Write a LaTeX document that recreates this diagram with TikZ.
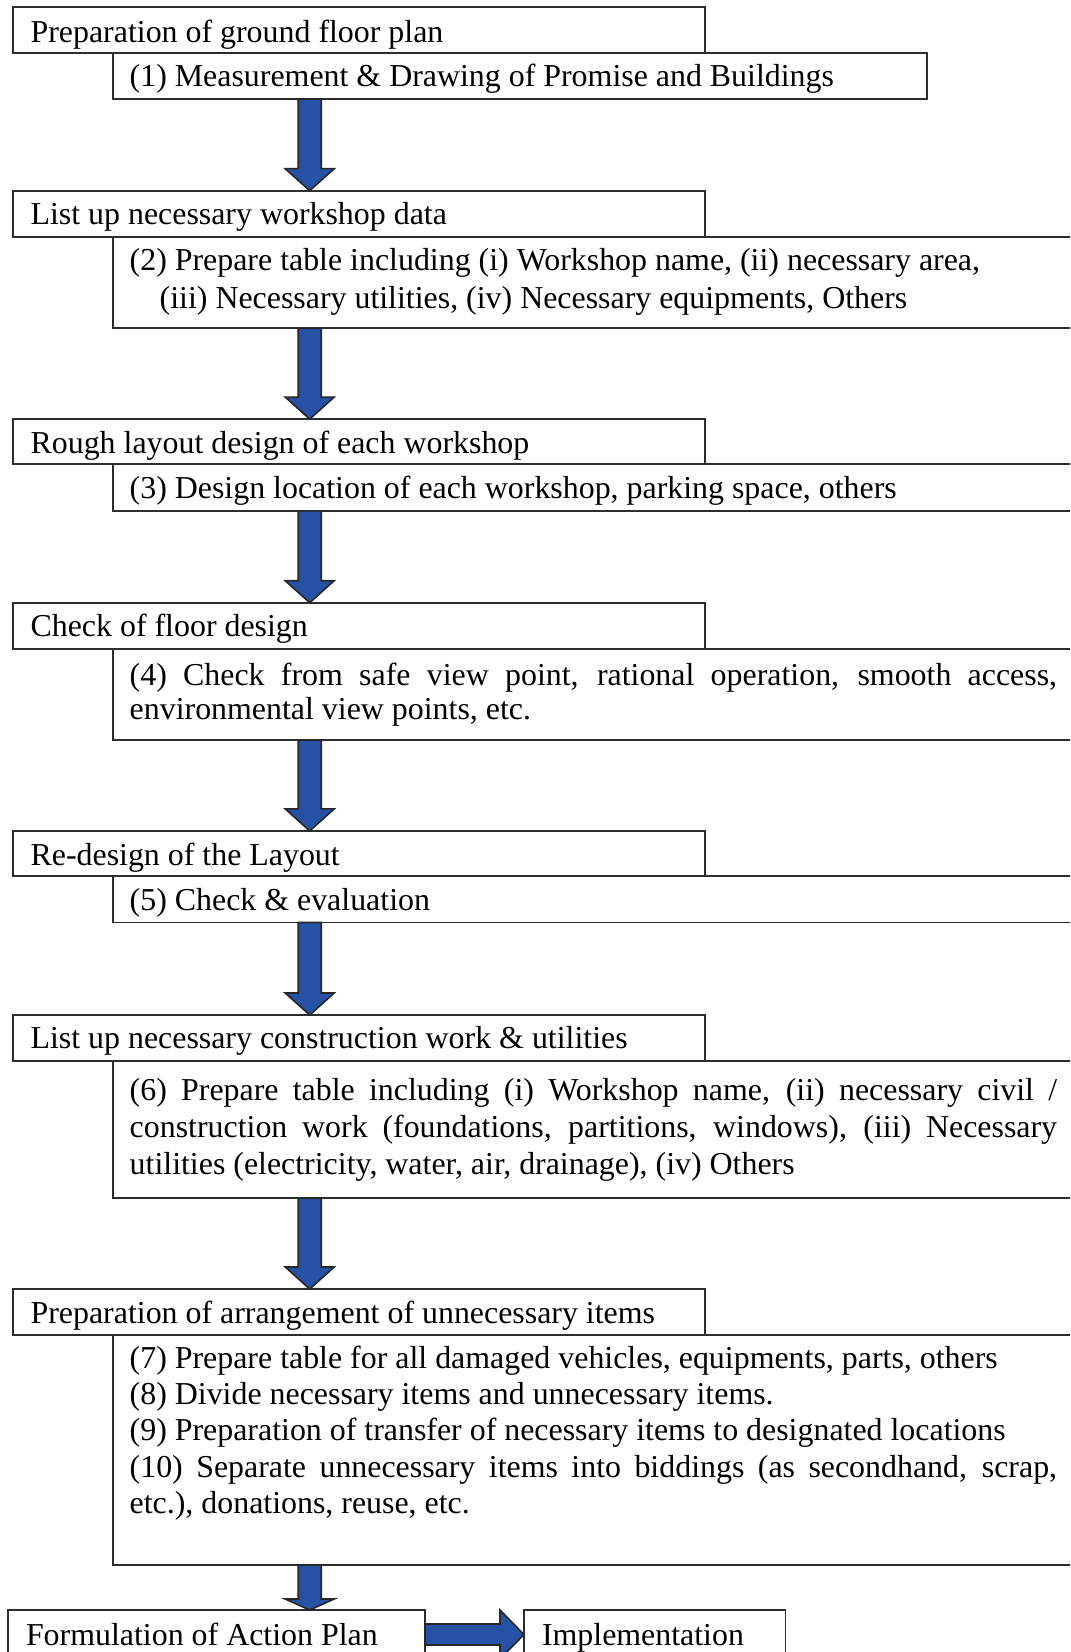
\documentclass[tikz,border=0pt]{standalone}
\usepackage{fontspec}
\setmainfont{Liberation Serif}
\usetikzlibrary{calc}

\definecolor{flowblue}{RGB}{37,82,165}
\definecolor{boxedge}{RGB}{45,45,45}
\def\pxu{0.3762pt}

% a framed rectangle given by its corners (left, top, right, bottom)
\newcommand\flowbox[5]{%
  \node[box, minimum width={(#4-#2)*\pxu}, minimum height={(#5-#3)*\pxu}] (#1) at (#2,#3) {};}

% a broad downward block arrow from one box to the next
\newcommand\downblock[3]{%
  \draw[blockarrow]
    ($(#1.south -| ax)+(-11.5,0)$) -- ($(#2.north -| ax)+(-11.5,-#3)$)
    -- ($(#2.north -| ax)+(-24.5,-#3)$) -- (#2.north -| ax)
    -- ($(#2.north -| ax)+(24.5,-#3)$) -- ($(#2.north -| ax)+(11.5,-#3)$)
    -- ($(#1.south -| ax)+(11.5,0)$) -- cycle;}

\begin{document}
\begin{tikzpicture}[x=\pxu, y=-\pxu,
  box/.style={draw=boxedge, line width=0.7pt, fill=white, inner sep=0pt,
    outer sep=0pt, anchor=north west, rectangle},
  txt/.style={inner sep=0pt, outer sep=0pt, anchor=base west,
    font=\fontsize{12pt}{14pt}\selectfont},
  blockarrow/.style={fill=flowblue, draw=black!85, line width=0.6pt, line join=miter}]

\useasboundingbox (0,0) rectangle (1070,1652);
\clip (0,0) rectangle (1070,1652);

\coordinate (ax) at (309.7,0);
\coordinate (ray) at (0,1634.5);

% sub-step boxes
\flowbox{s1}{112.7}{53.3}{927}{99}
\flowbox{s2}{112.7}{236.7}{1090}{328.3}
\flowbox{s3}{112.7}{464.4}{1090}{510.8}
\flowbox{s4}{112.7}{649.3}{1090}{740}
\flowbox{s5}{112.7}{876.2}{1090}{922.5}
\flowbox{s6}{112.7}{1061}{1090}{1198.3}
\flowbox{s7}{112.7}{1335}{1090}{1565}

% stage headings
\flowbox{h1}{12.6}{7.3}{705}{53.3}
\flowbox{h2}{12.6}{190.7}{705}{236.7}
\flowbox{h3}{12.6}{419.1}{705}{464.4}
\flowbox{h4}{12.6}{602.7}{705}{649.3}
\flowbox{h5}{12.6}{830.9}{705}{876.2}
\flowbox{h6}{12.6}{1015}{705}{1061}
\flowbox{h7}{12.6}{1289}{705}{1335}

% final row
\flowbox{fa}{8}{1610}{425}{1675}
\flowbox{im}{524}{1610}{785.5}{1675}

% heading texts
\node[txt] (h1t) at ($(h1.north west)+(18,35.5)$) {Preparation of ground floor plan};
\node[txt] (h2t) at ($(h2.north west)+(18,33.3)$) {List up necessary workshop data};
\node[txt] (h3t) at ($(h3.north west)+(18,34)$) {Rough layout design of each workshop};
\node[txt] (h4t) at ($(h4.north west)+(18,33.5)$) {Check of floor design};
\node[txt] (h5t) at ($(h5.north west)+(18,35)$) {Re-design of the Layout};
\node[txt] (h6t) at ($(h6.north west)+(18,33.3)$) {List up necessary construction work \& utilities};
\node[txt] (h7t) at ($(h7.north west)+(18,34)$) {Preparation of arrangement of unnecessary items};

% sub-step texts
\node[txt] (s1t) at ($(s1.north west)+(17,32.7)$) {(1) Measurement \& Drawing of Promise and Buildings};

\node[txt] (s2a) at ($(s2.north west)+(17,33.3)$) {(2) Prepare table including (i) Workshop name, (ii) necessary area,};
\node[txt] (s2b) at ($(s2.north west)+(47,71.3)$) {(iii) Necessary utilities, (iv) Necessary equipments, Others};

\node[txt] (s3t) at ($(s3.north west)+(17,34)$) {(3) Design location of each workshop, parking space, others};

\node[txt] (s4a) at ($(s4.north west)+(17,35.7)$) {\makebox[348.9pt][s]{(4) Check from safe view point, rational operation, smooth access,}};
\node[txt] (s4b) at ($(s4.north west)+(17,70)$) {environmental view points, etc.};

\node[txt] (s5t) at ($(s5.north west)+(17,34.5)$) {(5) Check \& evaluation};

\node[txt] (s6a) at ($(s6.north west)+(17,39.5)$) {\makebox[348.9pt][s]{(6) Prepare table including (i) Workshop name, (ii) necessary civil /}};
\node[txt] (s6b) at ($(s6.north west)+(17,76.5)$) {\makebox[348.9pt][s]{construction work (foundations, partitions, windows), (iii) Necessary}};
\node[txt] (s6c) at ($(s6.north west)+(17,113.3)$) {utilities (electricity, water, air, drainage), (iv) Others};

\node[txt] (s7a) at ($(s7.north west)+(17,33.3)$) {(7) Prepare table for all damaged vehicles, equipments, parts, others};
\node[txt] (s7b) at ($(s7.north west)+(17,69.6)$) {(8) Divide necessary items and unnecessary items.};
\node[txt] (s7c) at ($(s7.north west)+(17,105.9)$) {(9) Preparation of transfer of necessary items to designated locations};
\node[txt] (s7d) at ($(s7.north west)+(17,142.2)$) {\makebox[348.9pt][s]{(10) Separate unnecessary items into biddings (as secondhand, scrap,}};
\node[txt] (s7e) at ($(s7.north west)+(17,178.5)$) {etc.), donations, reuse, etc.};

\node[txt] (fat) at ($(fa.north west)+(18,35)$) {Formulation of Action Plan};
\node[txt] (imt) at ($(im.north west)+(18,35)$) {Implementation};

% block arrows between stages
\downblock{s1}{h2}{22}
\downblock{s2}{h3}{22}
\downblock{s3}{h4}{22}
\downblock{s4}{h5}{22}
\downblock{s5}{h6}{22}
\downblock{s6}{h7}{22}
\downblock{s7}{fa}{11}

% sideways block arrow to the last box
\draw[blockarrow]
  ($(fa.east |- ray)+(0,-10.5)$) -- ($(im.west |- ray)+(-24,-10.5)$)
  -- ($(im.west |- ray)+(-24,-24.5)$) -- (im.west |- ray)
  -- ($(im.west |- ray)+(-24,24.5)$) -- ($(im.west |- ray)+(-24,10.5)$)
  -- ($(fa.east |- ray)+(0,10.5)$) -- cycle;
\end{tikzpicture}
\end{document}
